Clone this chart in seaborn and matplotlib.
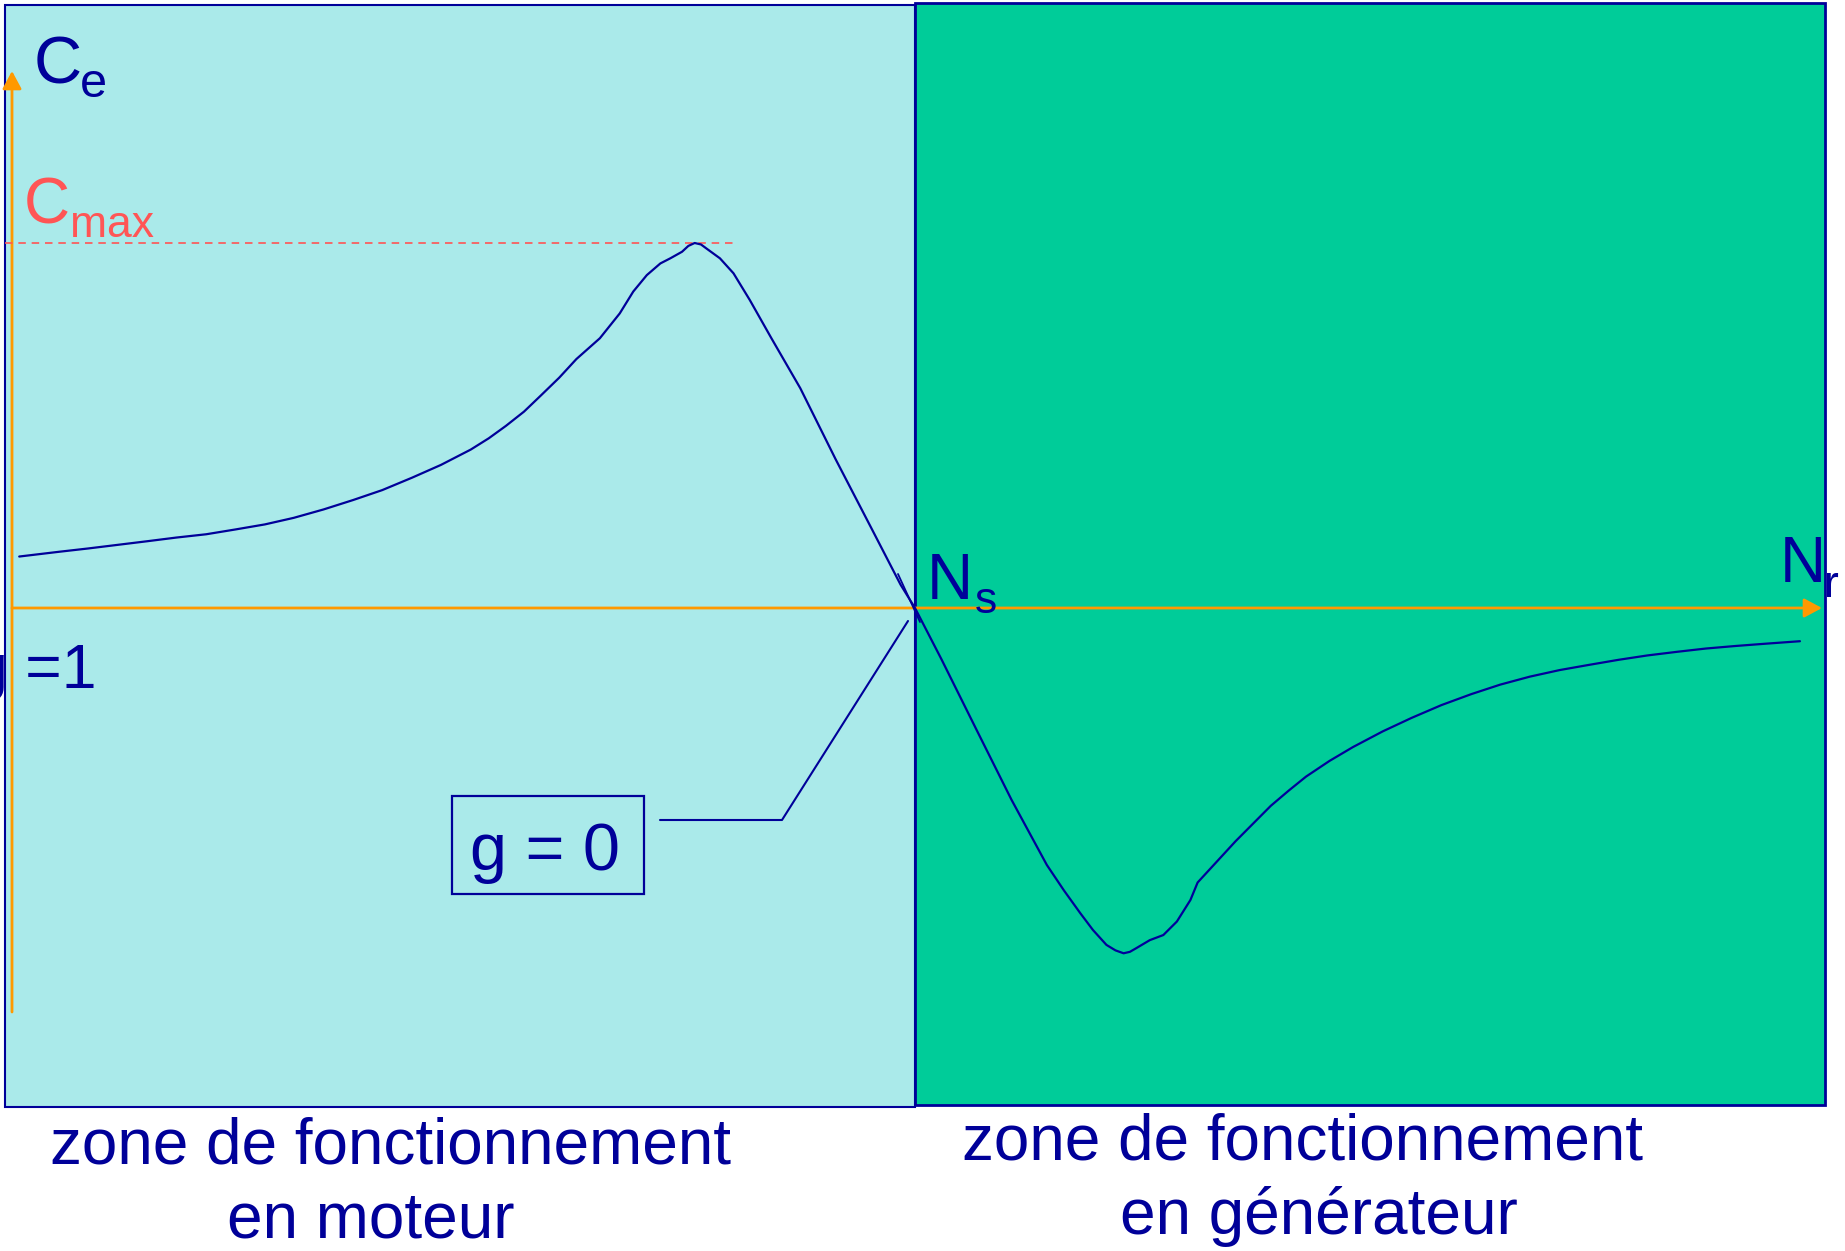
import matplotlib
matplotlib.use("Agg")
import matplotlib.pyplot as plt
import matplotlib.patches as mpatches
import matplotlib.transforms as mtransforms
import seaborn as sns
import pandas as pd

sns.set_style("white")
plt.rcParams['font.family'] = ['Liberation Sans', 'DejaVu Sans']

# Caractéristique couple / vitesse : vitesse N/Ns, couple Ce/Cmax
vitesse = [0.008, 0.052, 0.084, 0.117, 0.150, 0.182, 0.215, 0.247, 0.280,
           0.312, 0.345, 0.378, 0.410, 0.443, 0.475, 0.508, 0.528, 0.547,
           0.567, 0.586, 0.606, 0.625, 0.651, 0.673, 0.688, 0.703, 0.718,
           0.729, 0.742, 0.749, 0.756, 0.763, 0.769, 0.784, 0.799, 0.817,
           0.841, 0.873, 0.912, 0.951, 0.984, 1.000,
           1.029, 1.068, 1.107, 1.146, 1.165, 1.183, 1.197, 1.212, 1.222,
           1.231, 1.238, 1.245, 1.260, 1.275, 1.290, 1.305, 1.313, 1.355,
           1.394, 1.414, 1.433, 1.459, 1.485, 1.518, 1.550, 1.583, 1.616,
           1.648, 1.681, 1.714, 1.746, 1.779, 1.811, 1.844, 1.876, 1.909,
           1.941, 1.980]
couple = [0.141, 0.154, 0.163, 0.173, 0.183, 0.193, 0.202, 0.215, 0.229,
          0.247, 0.270, 0.296, 0.323, 0.357, 0.392, 0.434, 0.465, 0.499,
          0.538, 0.583, 0.631, 0.682, 0.739, 0.807, 0.867, 0.912, 0.944,
          0.958, 0.976, 0.992, 1.000, 0.996, 0.985, 0.958, 0.917, 0.844,
          0.739, 0.602, 0.408, 0.222, 0.064, 0.000,
          -0.139, -0.333, -0.526, -0.704, -0.774, -0.836, -0.882, -0.923, -0.938,
          -0.946, -0.942, -0.932, -0.910, -0.896, -0.859, -0.800, -0.752, -0.639,
          -0.542, -0.500, -0.462, -0.419, -0.381, -0.338, -0.301, -0.266, -0.236,
          -0.210, -0.188, -0.170, -0.156, -0.142, -0.130, -0.120, -0.111, -0.104,
          -0.098, -0.091]

zone_moteur = ["zone de fonctionnement", "en moteur"]
zone_generateur = ["zone de fonctionnement", "en générateur"]

NAVY = "#000099"
ORANGE = "#FF9900"
RED = "#FF5555"

W, H = 1845, 1251
fig = plt.figure(figsize=(W / 100, H / 100), dpi=100)
ax = fig.add_axes([0, 0, 1, 1])

# origine des axes et échelles (pixels)
X0, Y0 = 12, 608
SX, SY = 903, 365


def to_data(X, Y):
    return (X - X0) / SX, (Y0 - Y) / SY


px = mtransforms.Affine2D().scale(1, -1).translate(0, H)

# zones moteur / générateur
ax.add_patch(mpatches.Rectangle((5, 5), 910, 1102, transform=px,
                                facecolor="#AAEAEA", edgecolor=NAVY, lw=1.5, zorder=0))
ax.add_patch(mpatches.Rectangle((915, 3), 910, 1102, transform=px,
                                facecolor="#00CC99", edgecolor=NAVY, lw=2, zorder=0.5))

# courbe
df = pd.DataFrame({"N": vitesse, "C": couple})
sns.lineplot(data=df, x="N", y="C", sort=False, estimator=None,
             color=NAVY, lw=1.6, ax=ax, zorder=3)

# axes fléchés
arrow = dict(arrowstyle="-|>,head_length=0.54,head_width=0.29", color=ORANGE,
             lw=2, shrinkA=0, shrinkB=0, mutation_scale=20)
ax.annotate("", xy=to_data(X0, 71), xytext=to_data(X0, 1012), arrowprops=arrow, zorder=2)
ax.annotate("", xy=to_data(1822, Y0), xytext=(0, 0), arrowprops=arrow, zorder=2)

# Cmax
ax.hlines(max(couple), to_data(5, 0)[0], to_data(738, 0)[0], colors=RED,
          lw=1.2, linestyles=(0, (4.5, 3.5)), zorder=2)

# petit trait près de Ns et ligne de rappel g = 0
ax.plot([898, 920], [574, 622], transform=px, color=NAVY, lw=1.3, zorder=3)
ax.plot([660, 782, 908], [820, 820, 621], transform=px, color=NAVY, lw=1.5, zorder=3)
ax.add_patch(mpatches.Rectangle((452, 796), 192, 98, transform=px,
                                facecolor="none", edgecolor=NAVY, lw=1.6, zorder=3))


def label(X, Y, s, size, color=NAVY, ha="left"):
    ax.text(X, Y, s, transform=px, fontsize=size, color=color,
            ha=ha, va="baseline", zorder=4)


label(34, 83, "C", 48)
label(80, 97, "e", 35)
label(24, 223, "C", 46, RED)
label(70, 237, "max", 32, RED)
label(927, 599, "N", 46)
label(975, 613, "s", 32)
label(1780, 582, "N", 46)
label(1824, 597, "r", 32)
label(-27, 688, "g =1", 45)
label(545, 870, "g = 0", 48, ha="center")

label(391, 1163, zone_moteur[0], 46, ha="center")
label(371, 1238, zone_moteur[1], 46, ha="center")
label(1303, 1160, zone_generateur[0], 46, ha="center")
label(1319, 1234, zone_generateur[1], 46, ha="center")

ax.set_xlim(-X0 / SX, (W - X0) / SX)
ax.set_ylim((Y0 - H) / SY, Y0 / SY)
ax.set_axis_off()

fig.savefig("out.png", dpi=100)
plt.close(fig)
